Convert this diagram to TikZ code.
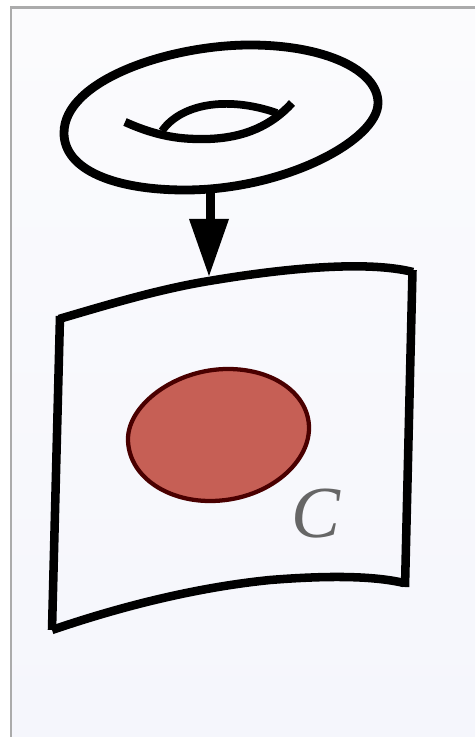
\documentclass[tikz,border=0pt]{standalone}
\usepackage{fontspec}
\setmainfont{Liberation Serif}
\definecolor{pagetop}{HTML}{FBFBFD}
\definecolor{pagebottom}{HTML}{F5F6FC}
\definecolor{framegray}{HTML}{ABABAB}
\definecolor{discfill}{HTML}{C65F55}
\definecolor{discline}{HTML}{4A0000}
\definecolor{labelgray}{HTML}{666666}
\tikzset{
  ink/.style={draw=black, line width=6.6pt, line cap=butt, line join=round},
  sheetedge/.style={draw=black, line width=6.4pt, line cap=butt},
  px/.style={x=0.75pt, y=-0.75pt}
}
\begin{document}
\begin{tikzpicture}[px]
  \useasboundingbox (0,0) rectangle (475,737);
  \fill[white] (0,0) rectangle (475,737);
  \shade[top color=pagetop, bottom color=pagebottom] (11,7.5) rectangle (475,737);
  \draw[draw=framegray, line width=1.6pt] (475,7.5) -- (11,7.5) -- (11,737);

  % torus outline
  \draw[ink] (64,133)
    .. controls (64,80) and (170,45) .. (250,45)
    .. controls (325,45) and (378,70) .. (378,103)
    .. controls (378,140) and (285,190) .. (185,190)
    .. controls (115,190) and (64,170) .. (64,133) -- cycle;
  % torus hole
  \draw[ink, line width=6.2pt] (125,122)
    .. controls (165,140) and (190,139) .. (207,139)
    .. controls (245,138) and (272,125) .. (292,103);
  \draw[ink, line width=5.8pt] (162,131)
    .. controls (180,105) and (225,95) .. (277,113);

  % map arrow
  \coordinate (top) at (210.5,187);
  \coordinate (bend) at (210.5,220);
  \coordinate (tip) at (209,276);
  \draw[black, line width=6.4pt] (top) -- (bend);
  \fill[black] (189,219) -- (229,219) -- (tip) -- cycle;

  % base sheet, four separately stroked edges
  \draw[sheetedge] (59,319)
    .. controls (110,304) and (160,289) .. (209,281)
    .. controls (280,269) and (365,260) .. (413,272);
  \draw[sheetedge] (412.5,270) -- (405,587);
  \draw[sheetedge] (404,583)
    .. controls (370,575) and (320,576) .. (270,580)
    .. controls (200,587) and (125,605) .. (52,630);
  \draw[sheetedge] (60,316) -- (52,630);

  % red disc
  \draw[draw=discline, fill=discfill, line width=3.2pt] (128,439)
    .. controls (128,405) and (175,369) .. (228,369)
    .. controls (275,369) and (309,395) .. (309,428)
    .. controls (309,465) and (265,501) .. (210,501)
    .. controls (165,501) and (128,475) .. (128,439) -- cycle;

  \node[text=labelgray, font=\fontsize{55}{55}\selectfont\itshape, inner sep=0pt] (curve) at (316,514) {C};
\end{tikzpicture}
\end{document}
